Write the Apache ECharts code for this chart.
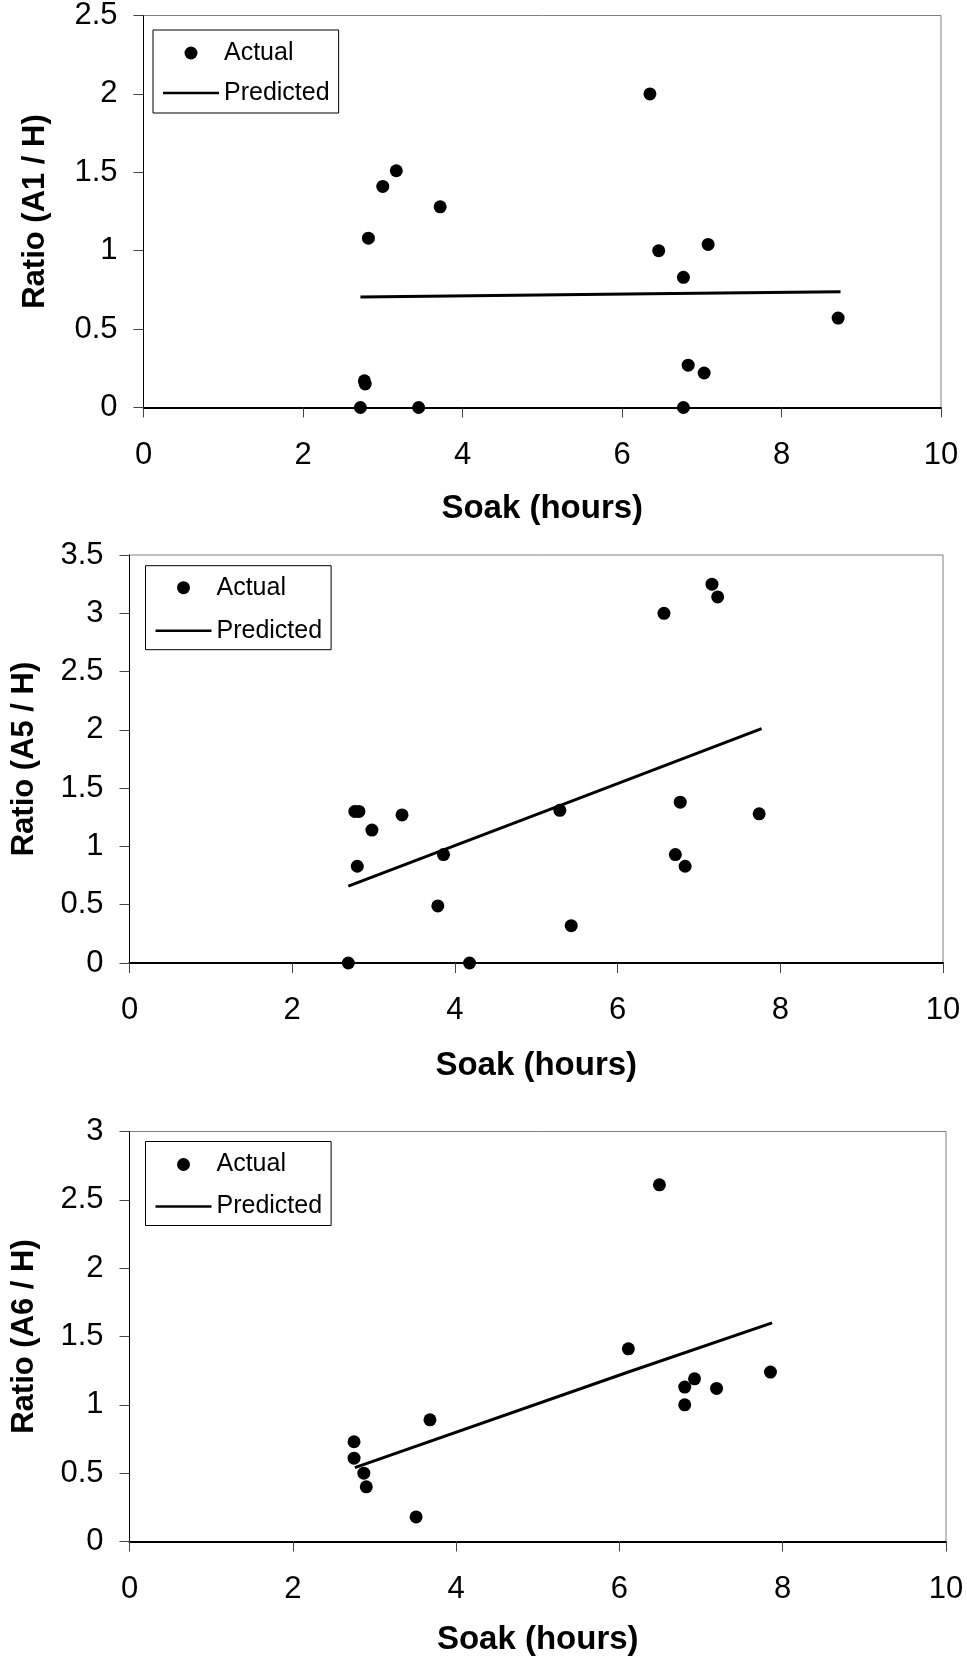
<!DOCTYPE html>
<html>
<head>
<meta charset="utf-8">
<script src="https://cdn.jsdelivr.net/npm/echarts@6/dist/echarts.min.js"></script>
<style>
html,body{margin:0;padding:0;background:#fff;}
#c{width:967px;height:1661px;}
</style>
</head>
<body>
<div id="c"></div>
<script>
// ---- data ----
const xTicks = [0, 2, 4, 6, 8, 10];
const xTitle = 'Soak (hours)';
const seriesNames = ['Actual', 'Predicted'];

// Panel 1 : A1 / H
const a1Title = 'Ratio (A1 / H)';
const a1Soak  = [6.35, 3.17, 3.00, 3.72, 2.82, 6.46, 7.08, 6.77, 8.71, 6.83, 7.03, 2.77, 2.78, 2.72, 3.45, 6.77];
const a1Ratio = [2.00, 1.51, 1.41, 1.28, 1.08, 1.00, 1.04, 0.83, 0.57, 0.27, 0.22, 0.17, 0.15, 0.00, 0.00, 0.00];
const a1PredSoak  = [2.72, 6.35, 8.74];
const a1PredRatio = [0.705, 0.725, 0.738];
const a1YTicks = [0, 0.5, 1, 1.5, 2, 2.5];

// Panel 2 : A5 / H
const a5Title = 'Ratio (A5 / H)';
const a5Soak  = [7.16, 7.23, 6.57, 2.77, 2.82, 3.35, 2.98, 2.80, 3.86, 3.79, 2.69, 4.18, 5.29, 5.43, 6.77, 6.71, 6.83, 7.74];
const a5Ratio = [3.25, 3.14, 3.00, 1.30, 1.30, 1.27, 1.14, 0.83, 0.93, 0.49, 0.00, 0.00, 1.31, 0.32, 1.38, 0.93, 0.83, 1.28];
const a5PredSoak  = [2.69, 5.29, 7.77];
const a5PredRatio = [0.66, 1.35, 2.01];
const a5YTicks = [0, 0.5, 1, 1.5, 2, 2.5, 3, 3.5];

// Panel 3 : A6 / H
const a6Title = 'Ratio (A6 / H)';
const a6Soak  = [6.49, 6.11, 7.85, 6.92, 6.80, 7.19, 6.80, 3.68, 2.75, 2.75, 2.87, 2.90, 3.51];
const a6Ratio = [2.61, 1.41, 1.24, 1.19, 1.13, 1.12, 1.00, 0.89, 0.73, 0.61, 0.50, 0.40, 0.18];
const a6PredSoak  = [2.76, 6.11, 7.87];
const a6PredRatio = [0.54, 1.24, 1.60];
const a6YTicks = [0, 0.5, 1, 1.5, 2, 2.5, 3];

// ---- layout ----
const panels = [
  {title:a1Title, soak:a1Soak, ratio:a1Ratio, ps:a1PredSoak, pr:a1PredRatio, yt:a1YTicks,
   grid:{left:143.5, top:15.3, width:797.5, height:392.2}, yGap:93, xGap:85,
   legend:{left:153, top:30, padding:[8,9,5,10], itemGap:10}},
  {title:a5Title, soak:a5Soak, ratio:a5Ratio, ps:a5PredSoak, pr:a5PredRatio, yt:a5YTicks,
   grid:{left:129.5, top:555, width:813.5, height:408}, yGap:90, xGap:86,
   legend:{left:145.5, top:565.7, padding:[7,9,4,10], itemGap:13}},
  {title:a6Title, soak:a6Soak, ratio:a6Ratio, ps:a6PredSoak, pr:a6PredRatio, yt:a6YTicks,
   grid:{left:129.5, top:1131.5, width:816.5, height:410}, yGap:90, xGap:82,
   legend:{left:145.5, top:1141.5, padding:[8,9,4,10], itemGap:12}}
];

const FONT = 'Liberation Sans, Arial, sans-serif';
const option = {
  backgroundColor:'#fff',
  animation:false,
  grid:[], xAxis:[], yAxis:[], legend:[], series:[]
};

panels.forEach((p, i) => {
  option.grid.push(Object.assign({show:true, borderColor:'#808080', borderWidth:1, backgroundColor:'#fff', containLabel:false}, p.grid));
  option.xAxis.push({
    type:'value', gridIndex:i, min:xTicks[0], max:xTicks[xTicks.length-1], interval:xTicks[1]-xTicks[0],
    name:xTitle, nameLocation:'middle', nameGap:p.xGap,
    nameTextStyle:{fontFamily:FONT, fontWeight:'bold', fontSize:33, color:'#000'},
    axisLine:{show:true, onZero:false, lineStyle:{color:'#000', width:2}},
    axisTick:{show:true, inside:false, length:10, lineStyle:{color:'#444', width:1}},
    axisLabel:{fontFamily:FONT, fontSize:31, color:'#000', margin:32},
    splitLine:{show:false}
  });
  option.yAxis.push({
    type:'value', gridIndex:i, min:p.yt[0], max:p.yt[p.yt.length-1], interval:p.yt[1]-p.yt[0],
    name:p.title, nameLocation:'middle', nameGap:p.yGap, nameRotate:90,
    nameTextStyle:{fontFamily:FONT, fontWeight:'bold', fontSize:31, color:'#000'},
    axisLine:{show:true, onZero:false, lineStyle:{color:'#000', width:1}},
    axisTick:{show:true, inside:false, length:10, lineStyle:{color:'#444', width:1}},
    axisLabel:{fontFamily:FONT, fontSize:31, color:'#000', margin:26},
    splitLine:{show:false}
  });
  option.legend.push(Object.assign({
    orient:'vertical', show:true,
    borderColor:'#000', borderWidth:1, backgroundColor:'#fff',
    itemWidth:56, itemHeight:13, selectedMode:false,
    textStyle:{fontFamily:FONT, fontSize:25, color:'#000', lineHeight:30},
    data:[{name:seriesNames[0], icon:'circle'},
          {name:seriesNames[1], icon:'path://M0,0H60V2.8H0Z'}]
  }, p.legend));
  option.series.push({
    name:seriesNames[0], type:'scatter', xAxisIndex:i, yAxisIndex:i,
    symbol:'circle', symbolSize:13, clip:false,
    itemStyle:{color:'#000', opacity:1},
    data:p.soak.map((s, k) => [s, p.ratio[k]]), z:3
  });
  option.series.push({
    name:seriesNames[1], type:'line', xAxisIndex:i, yAxisIndex:i,
    symbol:'none', showSymbol:false, color:'#000',
    lineStyle:{color:'#000', width:3},
    itemStyle:{color:'#000'},
    data:p.ps.map((s, k) => [s, p.pr[k]]), z:2
  });
});

const chart = echarts.init(document.getElementById('c'), null, {renderer:'canvas'});
chart.setOption(option);
</script>
</body>
</html>
